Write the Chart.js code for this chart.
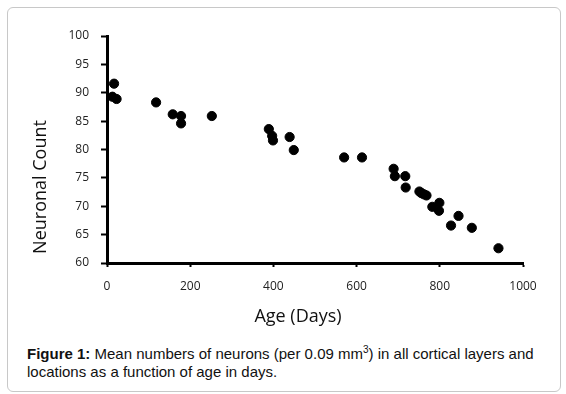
<!DOCTYPE html>
<html lang="en">
<head>
  <meta charset="UTF-8" />
  <title>Neuronal Count vs Age</title>
  <script src="https://cdn.jsdelivr.net/npm/chart.js"></script>
  <style>
    body { margin: 0; background: #fff; }
    .frame { position: absolute; left: 7px; top: 7px; width: 552px; height: 383px;
             border: 1px solid #c8c8c8; border-radius: 6px; }
    #wrap { position: absolute; left: 0; top: 0; width: 566px; height: 340px; }
    .caption { position: absolute; left: 27px; top: 341px; width: 525px;
               font: 15px "Liberation Sans", Arial, sans-serif; line-height: 18px; color: #111; }
  </style>
</head>
<body>
  <div class="frame"></div>
  <div id="wrap"><canvas id="chart" width="566" height="340"></canvas></div>
  <div class="caption"><b>Figure 1:</b> Mean numbers of neurons (per 0.09 mm<sup style="font-size:10px">3</sup>) in all cortical layers and locations as a function of age in days.</div>

  <script>
    // age in days and neuronal count
    const ageDays = [17, 13, 23, 118, 158, 178, 178, 252, 389, 397, 399, 439, 449,
                     570, 613, 689, 692, 717, 718, 751, 756, 762, 768, 782, 799, 798, 827, 845, 877, 941];
    const neuronCount = [91.6, 89.3, 88.9, 88.3, 86.2, 85.9, 84.6, 85.9, 83.6, 82.4, 81.6, 82.2, 79.9,
                         78.6, 78.6, 76.6, 75.3, 75.3, 73.3, 72.6, 72.3, 72.1, 71.9, 69.9, 70.6, 69.2, 66.6, 68.3, 66.2, 62.6];
    const xTicks = [0, 200, 400, 600, 800, 1000];
    const yTicks = [60, 65, 70, 75, 80, 85, 90, 95, 100];

    const axisTitles = {
      id: 'axisTitles',
      afterDraw(chart) {
        const { ctx } = chart;
        ctx.save();
        ctx.fillStyle = '#111';
        ctx.font = '18px "Open Sans", sans-serif';
        ctx.textAlign = 'center';
        ctx.textBaseline = 'middle';
        ctx.fillText('Age (Days)', 298, 317);
        ctx.translate(41, 187);
        ctx.rotate(-Math.PI / 2);
        ctx.fillText('Neuronal Count', 0, 0);
        ctx.restore();
      }
    };

    new Chart(document.getElementById('chart'), {
      type: 'scatter',
      data: {
        datasets: [{
          data: ageDays.map((d, i) => ({ x: d, y: neuronCount[i] })),
          backgroundColor: '#000',
          borderColor: '#000',
          pointRadius: 4.6,
          pointHoverRadius: 4.6
        }]
      },
      options: {
        responsive: false,
        animation: false,
        layout: { padding: { left: 0, top: 36, right: 43, bottom: 0 } },
        plugins: { legend: { display: false }, tooltip: { enabled: false } },
        scales: {
          x: {
            type: 'linear', min: 0, max: 1000,
            afterFit: s => { s.height = 77; },
            afterBuildTicks: s => { s.ticks = xTicks.map(v => ({ value: v })); },
            border: { display: true, color: '#000', width: 3 },
            grid: { drawOnChartArea: false, tickLength: 4, tickWidth: 2, tickColor: '#000' },
            ticks: { padding: 12, color: '#222', font: { family: 'Open Sans', size: 12 }, maxRotation: 0,
                     callback: v => String(v) }
          },
          y: {
            min: 60, max: 100,
            afterFit: s => { s.width = 107; },
            afterBuildTicks: s => { s.ticks = yTicks.map(v => ({ value: v })); },
            border: { display: true, color: '#000', width: 3 },
            grid: { drawOnChartArea: false, tickLength: 6, tickWidth: 2, tickColor: '#000' },
            ticks: { padding: 12, color: '#222', font: { family: 'Open Sans', size: 12 } }
          }
        }
      },
      plugins: [axisTitles]
    });
  </script>
</body>
</html>
